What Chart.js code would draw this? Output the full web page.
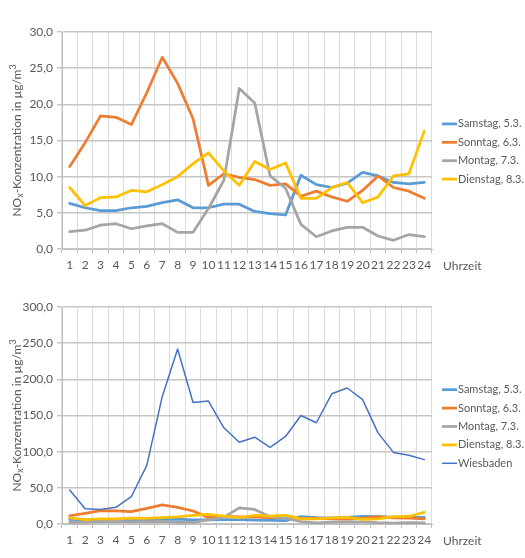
<!DOCTYPE html>
<html>
<head>
<meta charset="utf-8">
<script src="https://cdn.jsdelivr.net/npm/chart.js@4.4.0/dist/chart.umd.min.js"></script>
<style>
  html, body { margin: 0; padding: 0; background: #ffffff; }
  #wrap { position: relative; width: 525px; height: 558px; }
  canvas { position: absolute; left: 0; }
  #top-chart { top: 0; }
  #bottom-chart { top: 279px; }
</style>
</head>
<body>
<div id="wrap">
  <canvas id="top-chart" width="525" height="279"></canvas>
  <canvas id="bottom-chart" width="525" height="279"></canvas>
</div>
<script>
// Hours of the day (x axis)
const hours = ['1', '2', '3', '4', '5', '6', '7', '8', '9', '10', '11', '12',
  '13', '14', '15', '16', '17', '18', '19', '20', '21', '22', '23', '24'];

// NOx concentration in µg/m³ per hour
const samstag = [6.3, 5.7, 5.3, 5.3, 5.7, 5.9, 6.4, 6.8, 5.7, 5.7, 6.2, 6.2,
  5.2, 4.9, 4.7, 10.2, 8.9, 8.5, 9.1, 10.6, 10.1, 9.2, 9.0, 9.2];
const sonntag = [11.4, 14.7, 18.4, 18.2, 17.2, 21.6, 26.5, 22.9, 18.0, 8.8, 10.4, 9.9,
  9.6, 8.8, 9.0, 7.3, 8.0, 7.2, 6.6, 8.1, 10.1, 8.5, 8.0, 7.0];
const montag = [2.4, 2.6, 3.3, 3.5, 2.8, 3.2, 3.5, 2.3, 2.3, 5.6, 9.5, 22.2,
  20.2, 10.1, 8.4, 3.4, 1.7, 2.5, 3.0, 3.0, 1.8, 1.2, 2.0, 1.7];
const dienstag = [8.5, 6.0, 7.1, 7.2, 8.1, 7.9, 8.9, 10.0, 11.8, 13.3, 10.8, 8.8,
  12.1, 11.0, 11.9, 7.0, 7.0, 8.5, 9.2, 6.4, 7.2, 10.1, 10.4, 16.3];
const wiesbaden = [47, 21, 20, 23, 38, 81, 176, 242, 168, 170, 133, 113,
  120, 106, 121, 150, 140, 180, 188, 172, 126, 99, 95, 89];

const seriesLabels = ['Samstag, 5.3.', 'Sonntag, 6.3.', 'Montag, 7.3.', 'Dienstag, 8.3.', 'Wiesbaden'];
const seriesColors = ['#5b9bd5', '#ed7d31', '#a5a5a5', '#ffc000', '#4472c4'];

// Axis ranges
const topAxis = { max: 30, step: 5 };
const bottomAxis = { max: 300, step: 50 };

const textColor = '#595959';
const fontFamily = 'Lato, "Liberation Sans", sans-serif';

/**
 * Build a line dataset
 */
function makeDataset(index, values, width) {
  return {
    label: seriesLabels[index],
    data: values,
    borderColor: seriesColors[index],
    backgroundColor: seriesColors[index],
    borderWidth: width,
    pointRadius: 0,
    tension: 0,
    borderJoinStyle: 'round',
    borderCapStyle: 'round',
    fill: false
  };
}

/**
 * Axis title, "Uhrzeit" label and side legend
 */
const decorPlugin = {
  id: 'decor',
  afterDraw(chart) {
    const ctx = chart.ctx;
    const area = chart.chartArea;
    ctx.save();
    ctx.fillStyle = textColor;

    // y axis title with subscript and superscript
    const big = '12px ' + fontFamily;
    const small = '9px ' + fontFamily;
    const parts = [
      { t: 'NO', f: big, dy: 0 },
      { t: 'x', f: small, dy: 3 },
      { t: '-Konzentration in µg/m', f: big, dy: 0 },
      { t: '3', f: small, dy: -4 }
    ];
    let total = 0;
    parts.forEach(p => { ctx.font = p.f; p.w = ctx.measureText(p.t).width; total += p.w; });
    ctx.translate(17, (area.top + area.bottom) / 2);
    ctx.rotate(-Math.PI / 2);
    ctx.textBaseline = 'middle';
    ctx.textAlign = 'left';
    let x = -total / 2;
    parts.forEach(p => {
      ctx.font = p.f;
      ctx.fillText(p.t, x, p.dy);
      x += p.w;
    });
    ctx.setTransform(1, 0, 0, 1, 0, 0);

    // x axis title
    ctx.font = '12px ' + fontFamily;
    ctx.textBaseline = 'middle';
    ctx.fillText('Uhrzeit', 443, area.bottom + 17);

    // legend
    ctx.font = '11px ' + fontFamily;
    const sets = chart.data.datasets;
    const rowH = 18.4;
    let y = (area.top + area.bottom) / 2 + 11 - (sets.length - 1) * rowH / 2;
    sets.forEach(ds => {
      ctx.strokeStyle = ds.borderColor;
      ctx.lineWidth = ds.borderWidth;
      ctx.beginPath();
      ctx.moveTo(442, y);
      ctx.lineTo(457, y);
      ctx.stroke();
      ctx.fillStyle = textColor;
      ctx.fillText(ds.label, 458, y);
      y += rowH;
    });
    ctx.restore();
  }
};

/**
 * Create one chart
 */
function makeChart(canvasId, datasets, axis, padTop, axisHeight) {
  // last series drawn on top, as in the original
  datasets.forEach((ds, i) => { ds.order = datasets.length - 1 - i; });

  return new Chart(document.getElementById(canvasId), {
    type: 'line',
    data: { labels: hours, datasets: datasets },
    plugins: [decorPlugin],
    options: {
      responsive: false,
      animation: false,
      events: [],
      layout: { padding: { left: 0, right: 93, top: padTop, bottom: 0 } },
      plugins: {
        legend: { display: false },
        tooltip: { enabled: false }
      },
      scales: {
        x: {
          offset: true,
          grid: {
            offset: true,
            color: '#dcdcdc',
            lineWidth: 1,
            tickLength: 4,
            tickColor: '#bfbfbf'
          },
          border: { color: '#bfbfbf', width: 1 },
          ticks: {
            autoSkip: false,
            maxRotation: 0,
            padding: 5,
            color: textColor,
            font: { family: fontFamily, size: 12 }
          },
          afterFit(scale) { scale.height = axisHeight; }
        },
        y: {
          min: 0,
          max: axis.max,
          grid: {
            color: '#c6c6c6',
            lineWidth: 1.5,
            tickLength: 5
          },
          border: { color: '#bfbfbf', width: 1 },
          ticks: {
            stepSize: axis.step,
            padding: 4,
            color: textColor,
            font: { family: fontFamily, size: 12 },
            callback: v => v.toFixed(1).replace('.', ',')
          },
          afterFit(scale) { scale.width = 62; }
        }
      }
    }
  });
}

makeChart('top-chart', [
  makeDataset(0, samstag, 2.75),
  makeDataset(1, sonntag, 2.75),
  makeDataset(2, montag, 2.75),
  makeDataset(3, dienstag, 2.75)
], topAxis, 32, 30);

makeChart('bottom-chart', [
  makeDataset(0, samstag, 2.75),
  makeDataset(1, sonntag, 2.75),
  makeDataset(2, montag, 2.75),
  makeDataset(3, dienstag, 2.75),
  makeDataset(4, wiesbaden, 1.5)
], bottomAxis, 28, 34);
</script>
</body>
</html>
